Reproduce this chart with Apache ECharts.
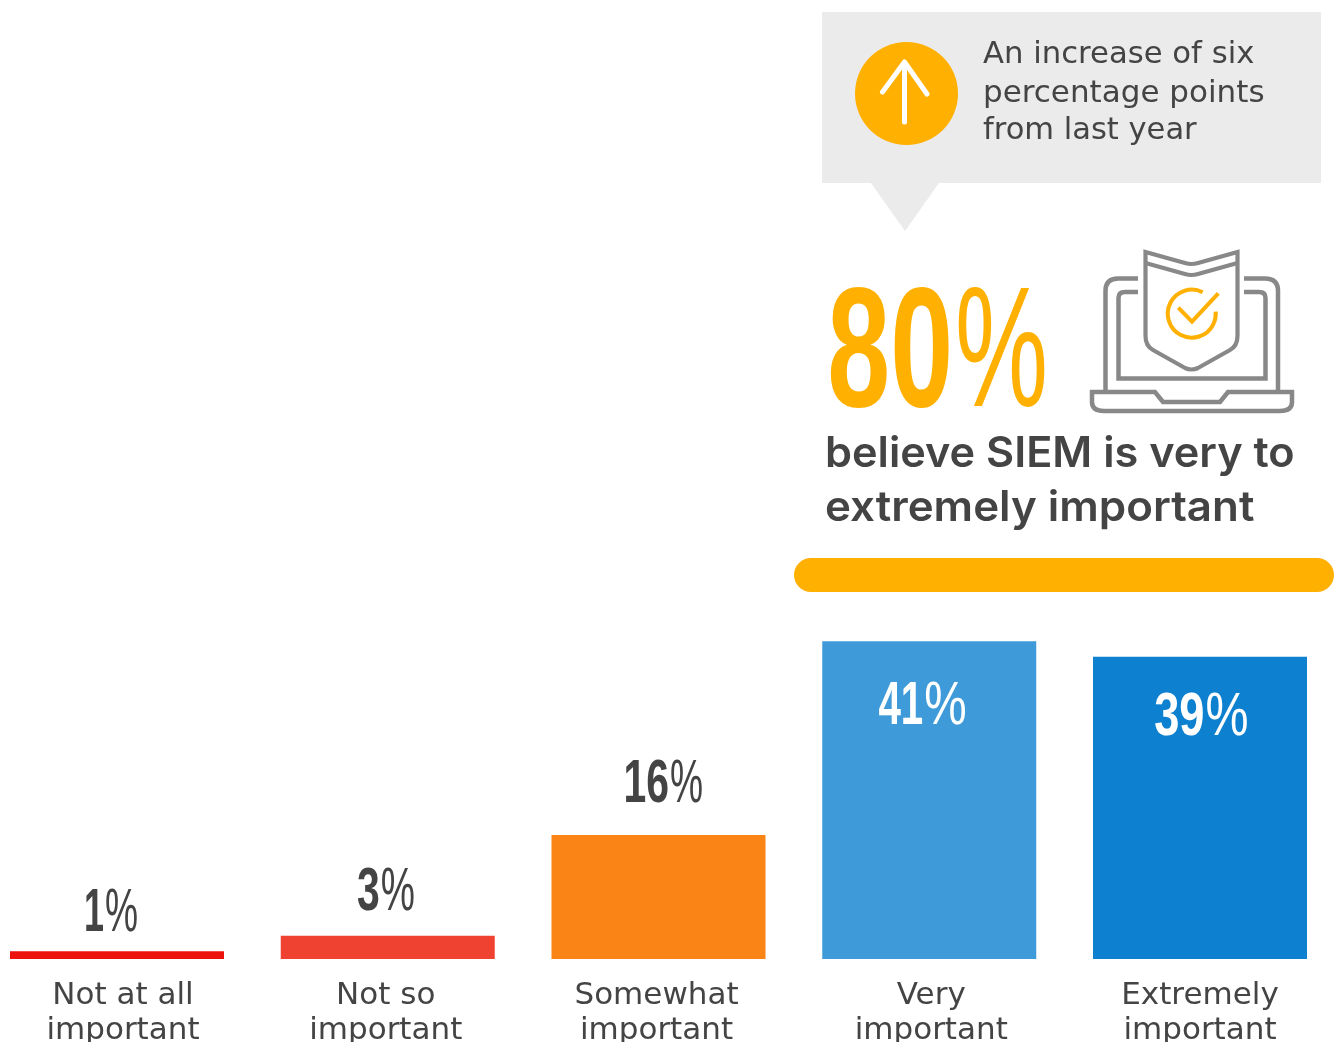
<!DOCTYPE html>
<html>
<head>
<meta charset="utf-8">
<style>html,body{margin:0;padding:0;background:#fff;overflow:hidden}#chart{width:1335px;height:1042px}</style>
<script src="https://cdn.jsdelivr.net/npm/echarts@6/dist/echarts.min.js"></script>
</head>
<body>
<div id="chart"></div>
<script>
// Survey responses: how important SIEM is to respondents
const categories = ['Not at all\nimportant', 'Not so\nimportant', 'Somewhat\nimportant', 'Very\nimportant', 'Extremely\nimportant'];
const shares = [1, 3, 16, 41, 39];
const barColors = ['#EC130D', '#F04230', '#FA8415', '#3E9AD8', '#0D80D0'];

const INK = '#444444';
const AMBER = '#FFB000';
const ICON_GREY = '#888888';
const BODY_FONT = '"DejaVu Sans", sans-serif';
const HEAD_FONT = 'Inter, sans-serif';
const FIGURE_FONT = '"Liberation Sans", sans-serif';

// Value label layout: split point between digits and percent sign relative to the bar centre,
// offset from the bar top, and how much each part is condensed
const labelSplit = [-13, -8, 10.5, -6, 4.5];
const labelDy = [-68, -74, -81, 35, 30];
const digitSqueeze = [0.58, 0.66, 0.66, 0.65, 0.73];
const percentSqueeze = [0.6, 0.62, 0.6, 0.77, 0.78];
const labelFill = [INK, INK, INK, '#FFFFFF', '#FFFFFF'];
// Horizontal nudge of each category caption
const captionDx = [6, -2, -2, 2, 0];

function line(d, stroke, width) {
  return { type: 'path', shape: { pathData: d }, style: { fill: null, stroke, lineWidth: width, lineCap: 'round', lineJoin: 'round' } };
}
function butt(d, stroke, width) {
  return { type: 'path', shape: { pathData: d }, style: { fill: null, stroke, lineWidth: width, lineCap: 'butt', lineJoin: 'miter' } };
}
function label(text, x, y, font, fill, scaleX, align) {
  return { type: 'text', x, y, scaleX: scaleX || 1, style: { text, font, fill, textAlign: align || 'left' } };
}

const decorations = [
  // Speech bubble
  { type: 'polygon', shape: { points: [[822, 12], [1321, 12], [1321, 183], [939, 183], [905, 231], [871, 183], [822, 183]] }, style: { fill: '#EBEBEB' } },
  { type: 'circle', shape: { cx: 906.5, cy: 93.5, r: 51.5 }, style: { fill: AMBER } },
  line('M904.5 122 L904.5 62 M882.5 92 L904.5 62 L927 94', '#FFFFFF', 5),
  label('An increase of six', 983, 39, '400 31px ' + BODY_FONT, INK, 0.99),
  label('percentage points', 983, 78, '400 31px ' + BODY_FONT, INK),
  label('from last year', 983, 115, '400 31px ' + BODY_FONT, INK, 0.985),

  // Headline figure
  label('80', 953, 274, '700 170px ' + FIGURE_FONT, AMBER, 0.665, 'right'),
  label('%', 955, 274, '400 170px ' + FIGURE_FONT, AMBER, 0.615),
  label('believe SIEM is very to', 825, 433, '600 42px ' + HEAD_FONT, INK, 1.03),
  label('extremely important', 825, 487, '600 42px ' + HEAD_FONT, INK, 1.045),

  // Laptop with shield
  butt('M1105.5 390 L1105.5 291 Q1105.5 278.5 1118 278.5 L1138 278.5 M1244 278.5 L1265 278.5 Q1278 278.5 1278 291 L1278 390', ICON_GREY, 4.5),
  butt('M1138 292 L1125 292 Q1118.5 292 1118.5 298 L1118.5 378.5 L1265.5 378.5 L1265.5 298 Q1265.5 292 1259 292 L1244 292', ICON_GREY, 4.5),
  butt('M1092 392 L1155 392 L1163 402 L1220 402 L1228 392 L1292 392 L1292 402 Q1292 411 1280 411 L1104 411 Q1092 411 1092 402 Z', ICON_GREY, 4.5),
  butt('M1145.5 252 L1185 263 Q1191.5 265 1198 263 L1237.5 252 L1237.5 336 Q1237.5 346 1230 350 L1198 368 Q1191.5 371 1185 368 L1153 350 Q1145.5 346 1145.5 336 Z', ICON_GREY, 4.2),
  butt('M1145.5 263 L1185 274 Q1191.5 276 1198 274 L1237.5 263', ICON_GREY, 4.2),
  butt('M1202.7 292.3 A24 24 0 1 0 1215.7 311.7', AMBER, 4),
  butt('M1178.3 307.7 L1192 321.7 L1218.3 293.3', AMBER, 4),

  // Bracket above the two top answers
  { type: 'rect', shape: { x: 794, y: 558, width: 540, height: 34, r: 17 }, style: { fill: AMBER } }
];

const chart = echarts.init(document.getElementById('chart'), null, { renderer: 'canvas' });
chart.setOption({
  animation: false,
  backgroundColor: '#FFFFFF',
  grid: { left: 117, right: 135, top: 184, bottom: 83, containLabel: false, outerBoundsMode: 'none' },
  xAxis: {
    type: 'category',
    boundaryGap: false,
    data: categories.map((value, i) => ({ value, textStyle: { padding: [0, captionDx[i] < 0 ? -2 * captionDx[i] : 0, 0, captionDx[i] > 0 ? 2 * captionDx[i] : 0] } })),
    axisLine: { show: false },
    axisTick: { show: false },
    axisLabel: { color: INK, fontFamily: BODY_FONT, fontSize: 31, lineHeight: 35, margin: 19, interval: 0, hideOverlap: false }
  },
  yAxis: { type: 'value', min: 0, max: 100, show: false },
  series: [
    {
      type: 'bar',
      barWidth: 214,
      clip: false,
      data: shares.map((value, i) => ({ value, itemStyle: { color: barColors[i] } }))
    },
    {
      // Value captions: heavy digits beside a lighter percent sign, both condensed
      type: 'custom',
      data: shares,
      z: 5,
      renderItem(params, api) {
        const i = params.dataIndex;
        const v = api.value(1);
        const p = api.coord([i, v]);
        const x = p[0] + labelSplit[i];
        const y = p[1] + labelDy[i];
        return {
          type: 'group',
          children: [
            label(String(v), x, y, '700 62px ' + FIGURE_FONT, labelFill[i], digitSqueeze[i], 'right'),
            label('%', x + 1, y, '400 62px ' + FIGURE_FONT, labelFill[i], percentSqueeze[i])
          ]
        };
      }
    },
    {
      // Callout, headline and laptop icon
      type: 'custom',
      coordinateSystem: 'none',
      data: [0],
      silent: true,
      z: 6,
      renderItem() {
        return { type: 'group', children: decorations };
      }
    }
  ]
});
</script>
</body>
</html>
